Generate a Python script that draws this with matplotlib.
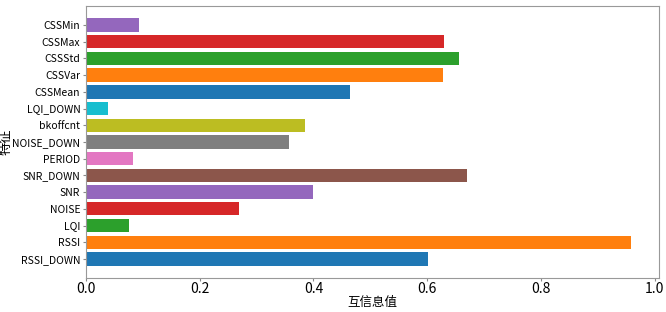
import matplotlib
matplotlib.use("Agg")
import matplotlib.pyplot as plt

plt.rcParams['font.family'] = ['Noto Sans CJK SC', 'DejaVu Sans']
plt.rcParams['axes.unicode_minus'] = False

# mutual information per feature, bottom to top
features = ['RSSI_DOWN', 'RSSI', 'LQI', 'NOISE', 'SNR', 'SNR_DOWN', 'PERIOD',
            'NOISE_DOWN', 'bkoffcnt', 'LQI_DOWN', 'CSSMean', 'CSSVar', 'CSSStd',
            'CSSMax', 'CSSMin']
mi_values = [0.602, 0.959, 0.076, 0.270, 0.400, 0.670, 0.083,
             0.357, 0.386, 0.039, 0.464, 0.628, 0.656, 0.630, 0.094]

colors = plt.rcParams['axes.prop_cycle'].by_key()['color']
bar_colors = [colors[i % len(colors)] for i in range(len(features))]

fig = plt.figure(figsize=(6.66, 3.12), dpi=100)
ax = fig.add_axes([0.129, 0.109, 0.860, 0.872])
ax.barh(features, mi_values, height=0.8, color=bar_colors)
ax.set_xlabel('互信息值', fontsize=9, labelpad=0)
ax.set_ylabel('特征', fontsize=9.5, labelpad=0)
ax.tick_params(axis='y', labelsize=7.5, length=2.5, pad=1.5, color='#888888')
ax.tick_params(axis='x', labelsize=10, length=2.5, pad=0.5, color='#888888')
for s in ax.spines.values():
    s.set_color('#999999')

fig.savefig('out.png', dpi=100)
